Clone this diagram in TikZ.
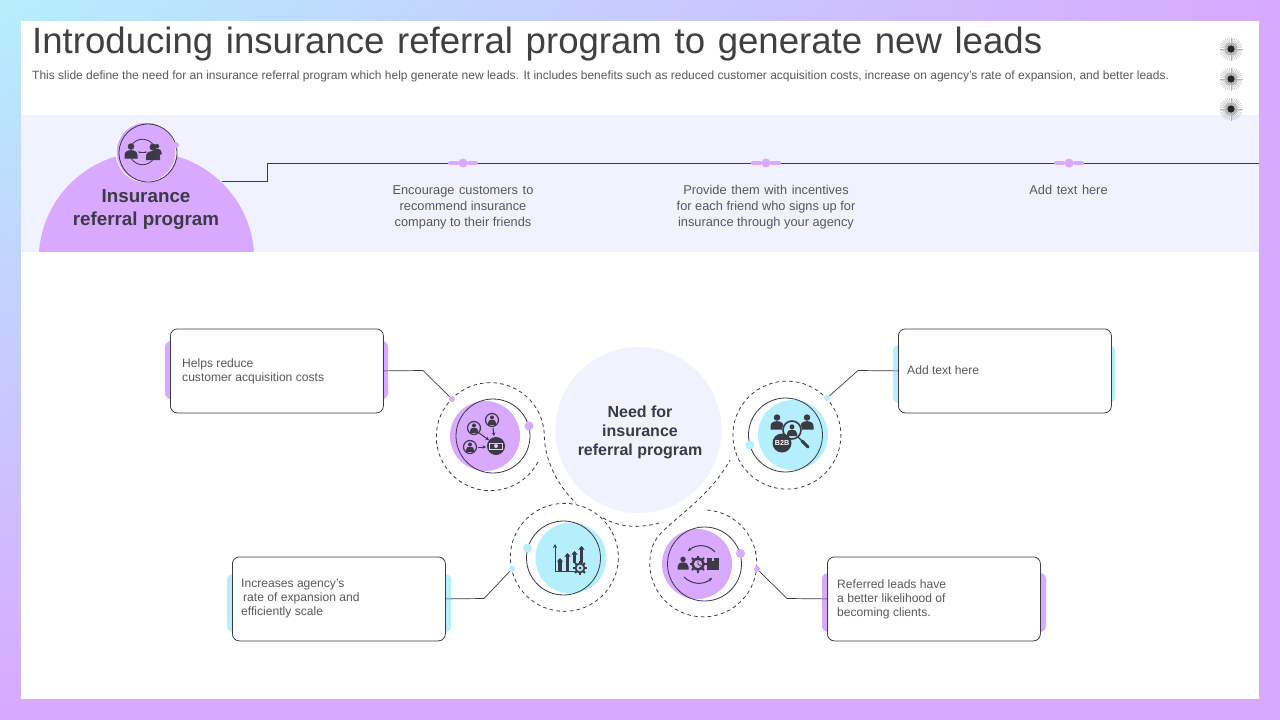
\documentclass[tikz,border=0pt]{standalone}
\usepackage{fontspec}
\setmainfont{Liberation Sans}
\usetikzlibrary{calc,shadings,arrows.meta}
\definecolor{PurpleFill}{HTML}{D8A9FE}
\definecolor{CyanFill}{HTML}{B5EEFD}
\definecolor{BandFill}{HTML}{F0F2FF}
\definecolor{InkDark}{HTML}{3B3A45}
\definecolor{TextGrey}{HTML}{595959}
\tikzset{
	ringline/.style={InkDark,line width=0.8pt,dash pattern=on 3.6pt off 3.2pt},
	orbitline/.style={InkDark,line width=0.8pt},
	leadline/.style={InkDark,line width=0.7pt},
	iconarrow/.style={InkDark,line width=1pt,-{Stealth[length=3.5pt,width=3.5pt]}},
	infobox/.style={draw=InkDark,fill=white,line width=0.8pt,rounded corners=7pt,minimum width=213pt,minimum height=84pt,inner sep=0pt},
	infotext/.style={text=TextGrey,font=\fontsize{12.1}{14}\selectfont,align=left,anchor=west,inner sep=0pt},
	bandtext/.style={text=TextGrey,font=\fontsize{12.8}{16}\selectfont,align=center,anchor=north,inner sep=0pt},
	tiny dot/.style={circle,inner sep=0pt,minimum size=6pt},
	big dot/.style={circle,inner sep=0pt,minimum size=9pt},
}
\newcommand{\widewords}[1]{\spaceskip=#1em\relax}
% head and shoulders at #1,#2 with size #3
\newcommand{\personicon}[3]{
	\begin{scope}[shift={(#1,#2)},scale=#3]
		\fill[InkDark] (0,-0.42) circle (0.25);
		\fill[InkDark] (-0.5,0.5) -- (-0.5,0.25) .. controls (-0.5,0) and (-0.3,-0.14) .. (0,-0.14) .. controls (0.3,-0.14) and (0.5,0) .. (0.5,0.25) -- (0.5,0.5) -- cycle;
	\end{scope}
}
% gear at #1,#2 with radius #3, inside colour #4
\newcommand{\gearicon}[4]{
	\foreach \a in {0,45,...,315}
		\draw[InkDark,line width=2pt] (#1,#2) -- ++(\a:#3);
	\fill[InkDark] (#1,#2) circle ({0.78*#3});
	\fill[#4] (#1,#2) circle ({0.48*#3});
}
\begin{document}
\begin{tikzpicture}[x=1pt,y=-1pt]
	\useasboundingbox (0,0) rectangle (1280,720);
	\shade[upper left=CyanFill,upper right=PurpleFill,lower left=PurpleFill,lower right=PurpleFill] (0,0) rectangle (1280,720);
	\fill[white] (21,21) rectangle (1259,699);
	\fill[BandFill] (21,115) rectangle (1259,252);

	\node[anchor=base west,inner sep=0pt,text=black!75,font=\fontsize{36.6}{38}\selectfont] (SlideTitle) at (32,53) {\widewords{0.345}Introducing insurance referral program to generate new leads};
	\node[anchor=base west,inner sep=0pt,text=TextGrey,font=\fontsize{12}{14}\selectfont] (SlideNote) at (32,79) {This slide define the need for an insurance referral program which help generate new leads. It includes benefits such as reduced customer acquisition costs, increase on agency's rate of expansion, and better leads.};

	% three bursts
	\foreach \y in {49,79,109} {
		\fill[black!25] (1231,\y) circle (6.5);
		\foreach \a in {0,10,...,350}
			\draw[black!30,line width=0.35pt] (1231,\y) -- ++(\a:11.5);
		\fill[black!85] (1231,\y) circle (3.6);
	}

	% semicircle and header
	\begin{scope}
		\clip (21,115) rectangle (1259,251.5);
		\fill[PurpleFill] (146.5,259.8) circle (107.8);
	\end{scope}
	\fill[PurpleFill] (146,152) circle (29.5);
	\draw[white,line width=0.8pt] (146,152) circle (30);
	\draw[orbitline] (148,153) circle (29);
	\node[tiny dot,fill=PurpleFill] (HeadDot) at (176,145) {};
	\node[text=InkDark,font=\bfseries\fontsize{18.8}{23}\selectfont,align=center,inner sep=0pt] (HeadTitle) at (146,210) {Insurance\\referral program};
	\draw[InkDark,line width=0.8pt] (131,146) .. controls (136,137) and (149,137) .. (154,146);
	\draw[InkDark,line width=0.8pt] (131,158) .. controls (136,167) and (149,167) .. (154,158);
	\draw[InkDark,line width=0.8pt,{Stealth[length=2pt]}-{Stealth[length=2pt]}] (138,152) -- (147,152);
	\personicon{131}{152}{13}
	\personicon{157}{150}{9}
	\personicon{153}{153}{14}

	\coordinate (BandStart) at (222,181);
	\coordinate (BandTurnA) at (267,181);
	\coordinate (BandTurnB) at (267,163);
	\coordinate (BandEnd) at (1259,163);
	\draw[leadline] (BandStart) -- (BandTurnA) -- (BandTurnB) -- (BandEnd);
	\foreach \x/\name in {463/MarkOne,766/MarkTwo,1069/MarkThree} {
		\draw[PurpleFill,line width=4pt,line cap=round] (\x-13,163) -- (\x-6,163);
		\draw[PurpleFill,line width=4pt,line cap=round] (\x+6,163) -- (\x+13,163);
		\node[big dot,fill=PurpleFill] (\name) at (\x,163) {};
	}
	\node[bandtext] (BandOne) at (463,185.5) {\widewords{0.36}Encourage customers to\\recommend insurance\\company to their friends};
	\node[bandtext] (BandTwo) at (766,185.5) {\widewords{0.36}Provide them with incentives\\for each friend who signs up for\\insurance through your agency};
	\node[bandtext] (BandThree) at (1068.5,185.5) {\widewords{0.36}Add text here};

	% centre
	\node[circle,fill=BandFill,minimum size=166pt,inner sep=0pt] (NeedCircle) at (638.5,430) {};
	\node[text=InkDark,font=\bfseries\fontsize{16}{19}\selectfont,align=center,inner sep=0pt] (NeedText) at (640,432.5) {Need for\\insurance\\referral program};

	% dashed rings
	\draw[ringline] (538,462) arc[start angle=28,end angle=360,radius=54] .. controls (545,460) and (557,485) .. (576,503);
	\draw[ringline] (735,450) arc[start angle=164,end angle=524,radius=54];
	\draw[ringline] (612,532) arc[start angle=-28,end angle=332,radius=54];
	\draw[ringline] (603,518) .. controls (625,530) and (645,527) .. (663,522);
	\draw[ringline] (707,510) arc[start angle=-86,end angle=200,radius=53.5] .. controls (660,525) and (705,505) .. (730,460);

	% discs and orbits
	\fill[PurpleFill] (485,436) circle (35);
	\draw[orbitline] (493,436) circle (37);
	\node[big dot,fill=PurpleFill] (DotOne) at (529,426) {};
	\fill[CyanFill] (793,435) circle (35);
	\draw[orbitline] (785.5,435) circle (37);
	\node[big dot,fill=CyanFill] (DotTwo) at (750,445) {};
	\fill[CyanFill] (571,558) circle (35.5);
	\draw[orbitline] (563.5,558) circle (37);
	\node[big dot,fill=CyanFill] (DotThree) at (527.5,548) {};
	\fill[PurpleFill] (697,564) circle (35);
	\draw[orbitline] (704.5,564) circle (37);
	\node[big dot,fill=PurpleFill] (DotFour) at (740.5,553.5) {};

	% referral icon
	\foreach \x/\y in {492/420,474/428,470/447} {
		\draw[InkDark,line width=1.2pt] (\x,\y) circle (6.5);
		\personicon{\x}{\y+0.8}{8}
	}
	\draw[iconarrow] (493,428) -- (494,436);
	\draw[iconarrow] (479,433) -- (489,440);
	\draw[iconarrow] (478,447) -- (486,447);
	\fill[InkDark] (496,446) circle (9);
	\draw[PurpleFill!70!white,line width=0.8pt] (489.5,443) rectangle (502.5,449);
	\fill[PurpleFill!70!white] (496,446) circle (2);

	% search icon
	\personicon{777}{423}{13}
	\personicon{807}{423}{13}
	\fill[CyanFill] (792,430) circle (10);
	\draw[InkDark,line width=1.6pt] (792,430) circle (9);
	\personicon{792}{431}{10}
	\draw[InkDark,line width=1.2pt] (798,437) -- (803,442);
	\draw[InkDark,line width=3pt,line cap=round] (802,441) -- (808,447);
	\node[circle,fill=InkDark,inner sep=0pt,minimum size=19pt,text=white,font=\bfseries\fontsize{7.2}{8}\selectfont] (SearchTag) at (782,443) {B2B};

	% growth icon
	\draw[InkDark,line width=1pt,-{Stealth[length=4pt,width=4pt]}] (555,571.5) -- (555,544);
	\draw[InkDark,line width=1pt] (555,571) -- (576,571);
	\foreach \x/\y in {560/558,567.5/553,574.5/551,581.5/546}
		\draw[InkDark,line width=3.5pt,-{Stealth[length=3.5pt,width=6pt,inset=0pt]}] (\x,{\x<574 ? 571 : 563}) -- (\x,\y);
	\gearicon{580}{568}{7}{CyanFill}
	\fill[InkDark] (580,568) circle (1.5);

	% exchange icon
	\draw[iconarrow] (715,552) .. controls (708,544) and (696,544) .. (688,551);
	\draw[iconarrow] (684,577) .. controls (692,585) and (704,585) .. (712,578);
	\personicon{683}{564}{11}
	\gearicon{698}{564}{8.5}{PurpleFill}
	\draw[InkDark,line width=0.8pt] (698,560) -- (698,564) -- (701,566);
	\fill[InkDark] (707,558) rectangle (719,570);
	\fill[PurpleFill] (711.5,557.5) rectangle (714,561);

	% boxes
	\fill[PurpleFill,rounded corners=6pt] (165,341) rectangle (388,399);
	\node[infobox,anchor=north west] (BoxOne) at (170,328.5) {};
	\node[infotext] (BoxOneText) at (182,371) {Helps reduce\\customer acquisition costs};
	\fill[CyanFill,rounded corners=6pt] (893,345) rectangle (1115,403);
	\node[infobox,anchor=north west] (BoxTwo) at (898,328.5) {};
	\node[infotext] (BoxTwoText) at (907,370) {Add text here};
	\fill[CyanFill,rounded corners=6pt] (227,574) rectangle (451,632);
	\node[infobox,anchor=north west] (BoxThree) at (232,556.5) {};
	\node[infotext] (BoxThreeText) at (241,599) {Increases agency's\\ \hspace{2pt}rate of expansion and\\efficiently scale};
	\fill[PurpleFill,rounded corners=6pt] (822,573) rectangle (1046,632);
	\node[infobox,anchor=north west] (BoxFour) at (827,556.5) {};
	\node[infotext] (BoxFourText) at (837,599) {Referred leads have\\a better likelihood of\\becoming clients.};

	% leaders
	\node[tiny dot,fill=PurpleFill] (LeadOne) at (452,399) {};
	\coordinate (BendOne) at (423,370.5);
	\draw[leadline] (BoxOne.east) -- (BendOne) -- (LeadOne);
	\node[tiny dot,fill=CyanFill] (LeadTwo) at (827,398) {};
	\coordinate (BendTwo) at (858,370.5);
	\draw[leadline] (BoxTwo.west) -- (BendTwo) -- (LeadTwo);
	\node[tiny dot,fill=CyanFill] (LeadThree) at (512,569) {};
	\coordinate (BendThree) at (484,598.5);
	\draw[leadline] (BoxThree.east) -- (BendThree) -- (LeadThree);
	\node[tiny dot,fill=PurpleFill] (LeadFour) at (757,569) {};
	\coordinate (BendFour) at (787,598.5);
	\draw[leadline] (BoxFour.west) -- (BendFour) -- (LeadFour);
\end{tikzpicture}
\end{document}
